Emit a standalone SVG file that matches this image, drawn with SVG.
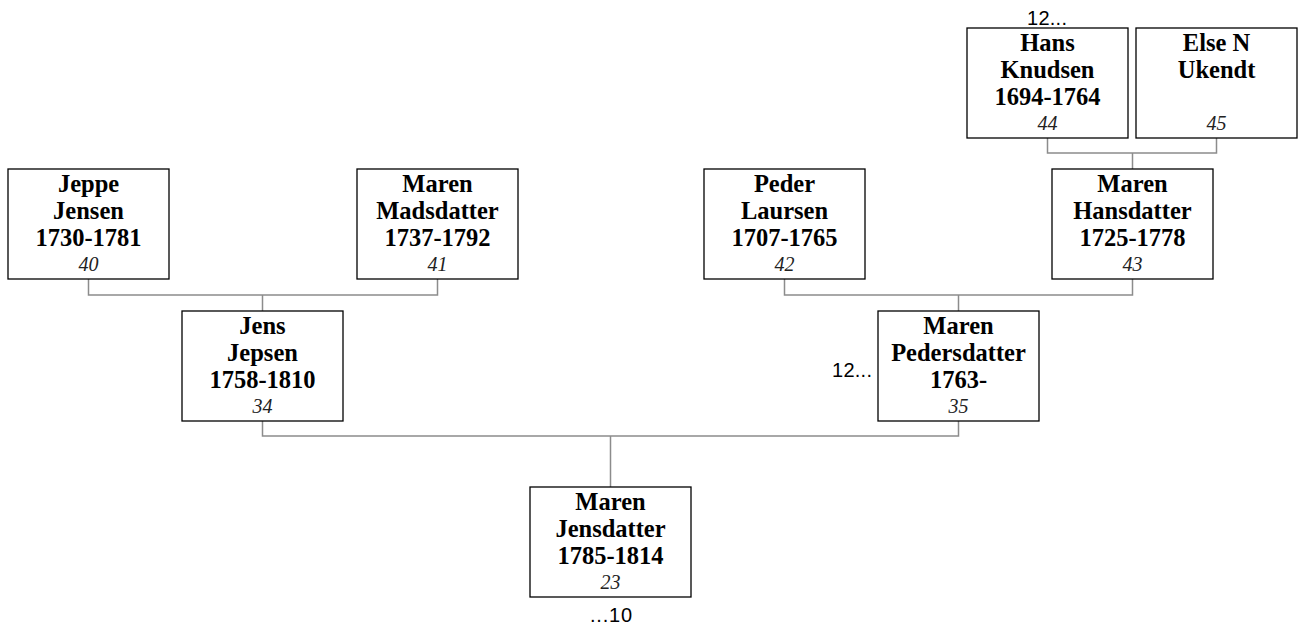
<svg xmlns="http://www.w3.org/2000/svg" width="1303" height="630" viewBox="0 0 1303 630">
<style>
.box{fill:#fff;stroke:#000;stroke-width:1.3}
.n{font-family:"Liberation Serif","Times New Roman",serif;font-weight:bold;font-size:24.5px;fill:#000;text-anchor:middle}
.i{font-family:"Liberation Serif","Times New Roman",serif;font-style:italic;font-size:20px;fill:#222;text-anchor:middle}
.c{fill:none;stroke:#8c8c8c;stroke-width:1.5}
.s{font-family:"Liberation Sans",Arial,sans-serif;font-size:20px;fill:#000}
</style>
<g id="connectors">
<path class="c" d="M1047.5 137V153H1216.5V137M1132.5 153V169"/>
<path class="c" d="M88.5 279V295H437.5V279M262.5 295V311"/>
<path class="c" d="M784.5 279V295H1132.5V279M958.5 295V311"/>
<path class="c" d="M262.5 420V436H958.5V420M610.5 436V487"/>
</g>
<g id="n44">
<rect class="box" x="967" y="28" width="161" height="110"/>
<text class="n" x="1047.5" y="51">Hans</text>
<text class="n" x="1047.5" y="78">Knudsen</text>
<text class="n" x="1047.5" y="105">1694-1764</text>
<text class="i" x="1047.5" y="130">44</text>
<text class="s" x="1027" y="25" textLength="40">12...</text>
</g>
<g id="n45">
<rect class="box" x="1136" y="28" width="161" height="110"/>
<text class="n" x="1216.5" y="51">Else N</text>
<text class="n" x="1216.5" y="78">Ukendt</text>
<text class="i" x="1216.5" y="130">45</text>
</g>
<g id="n40">
<rect class="box" x="8" y="169" width="161" height="110"/>
<text class="n" x="88.5" y="192">Jeppe</text>
<text class="n" x="88.5" y="219">Jensen</text>
<text class="n" x="88.5" y="246">1730-1781</text>
<text class="i" x="88.5" y="271">40</text>
</g>
<g id="n41">
<rect class="box" x="357" y="169" width="161" height="110"/>
<text class="n" x="437.5" y="192">Maren</text>
<text class="n" x="437.5" y="219">Madsdatter</text>
<text class="n" x="437.5" y="246">1737-1792</text>
<text class="i" x="437.5" y="271">41</text>
</g>
<g id="n42">
<rect class="box" x="704" y="169" width="161" height="110"/>
<text class="n" x="784.5" y="192">Peder</text>
<text class="n" x="784.5" y="219">Laursen</text>
<text class="n" x="784.5" y="246">1707-1765</text>
<text class="i" x="784.5" y="271">42</text>
</g>
<g id="n43">
<rect class="box" x="1052" y="169" width="161" height="110"/>
<text class="n" x="1132.5" y="192">Maren</text>
<text class="n" x="1132.5" y="219">Hansdatter</text>
<text class="n" x="1132.5" y="246">1725-1778</text>
<text class="i" x="1132.5" y="271">43</text>
</g>
<g id="n34">
<rect class="box" x="182" y="311" width="161" height="110"/>
<text class="n" x="262.5" y="334">Jens</text>
<text class="n" x="262.5" y="361">Jepsen</text>
<text class="n" x="262.5" y="388">1758-1810</text>
<text class="i" x="262.5" y="413">34</text>
</g>
<g id="n35">
<rect class="box" x="878" y="311" width="161" height="110"/>
<text class="n" x="958.5" y="334">Maren</text>
<text class="n" x="958.5" y="361">Pedersdatter</text>
<text class="n" x="958.5" y="388">1763-</text>
<text class="i" x="958.5" y="413">35</text>
<text class="s" x="832" y="377" textLength="40">12...</text>
</g>
<g id="n23">
<rect class="box" x="530" y="487" width="161" height="110"/>
<text class="n" x="610.5" y="510">Maren</text>
<text class="n" x="610.5" y="537">Jensdatter</text>
<text class="n" x="610.5" y="564">1785-1814</text>
<text class="i" x="610.5" y="589">23</text>
<text class="s" x="590" y="622" textLength="42">...10</text>
</g>
</svg>
